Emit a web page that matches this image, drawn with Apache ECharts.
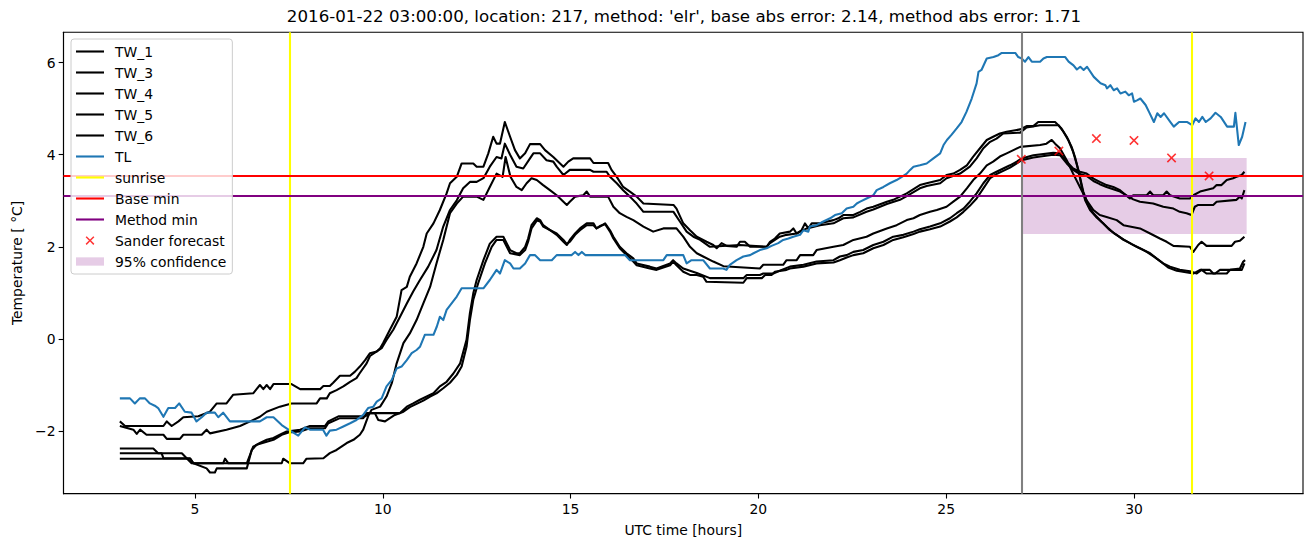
<!DOCTYPE html>
<html>
<head>
<meta charset="utf-8">
<script src="https://cdn.jsdelivr.net/npm/echarts@6/dist/echarts.min.js"></script>
<style>html,body{margin:0;padding:0;background:#fff}#c{width:1313px;height:547px}</style>
</head>
<body>
<div id="c"></div>
<script>
// ---- data: [UTC hour, temperature °C] ----
const tw1 = [[3.00,-1.79],[3.14,-1.89],[4.16,-1.89],[4.25,-1.79],[4.38,-1.89],[4.56,-1.79],[4.69,-1.70],[5.09,-1.68],[5.40,-1.58],[5.58,-1.40],[5.84,-1.40],[6.02,-1.21],[6.55,-1.18],[6.64,-1.09],[6.73,-1.00],[6.82,-1.09],[6.91,-1.00],[7.00,-1.09],[7.09,-0.98],[7.57,-0.98],[7.80,-1.09],[8.33,-1.09],[8.42,-1.02],[8.59,-1.02],[8.68,-0.95],[8.86,-0.80],[9.13,-0.80],[9.26,-0.71],[9.39,-0.60],[9.53,-0.46],[9.66,-0.31],[9.84,-0.27],[9.93,-0.20],[10.01,-0.09],[10.19,0.20],[10.37,0.48],[10.50,1.06],[10.64,1.13],[10.72,1.35],[10.90,1.64],[11.08,2.00],[11.17,2.29],[11.35,2.51],[11.52,2.80],[11.70,3.16],[11.79,3.38],[11.97,3.52],[12.10,3.81],[12.41,3.81],[12.50,3.74],[12.68,3.74],[12.81,4.03],[12.94,4.39],[13.03,4.24],[13.12,4.24],[13.25,4.71],[13.39,4.39],[13.52,4.10],[13.65,3.92],[13.79,4.03],[13.92,4.23],[14.19,4.23],[14.32,4.10],[14.54,3.95],[14.72,3.81],[14.81,3.74],[14.94,3.85],[15.07,3.92],[15.52,3.92],[15.61,3.82],[16.00,3.82],[16.09,3.67],[16.23,3.52],[16.40,3.30],[16.58,3.20],[16.76,3.09],[16.94,2.94],[17.74,2.91],[17.82,2.83],[18.00,2.51],[18.18,2.36],[18.36,2.22],[18.62,2.11],[18.80,2.04],[18.89,1.97],[19.02,2.08],[19.16,2.02],[19.42,2.00],[19.51,2.11],[19.64,2.11],[19.78,2.00],[20.22,2.00],[20.31,2.11],[20.44,2.18],[20.57,2.29],[20.84,2.33],[20.93,2.40],[21.02,2.29],[21.15,2.36],[21.24,2.51],[21.33,2.40],[21.42,2.51],[21.64,2.51],[22.00,2.58],[22.13,2.62],[22.26,2.69],[22.53,2.69],[22.71,2.76],[22.88,2.83],[23.06,2.87],[23.42,2.98],[23.59,3.02],[23.77,3.09],[23.95,3.16],[24.30,3.34],[24.48,3.38],[24.84,3.45],[25.01,3.56],[25.19,3.59],[25.37,3.67],[25.55,3.77],[25.72,3.96],[25.90,4.14],[26.08,4.32],[26.25,4.39],[26.43,4.46],[26.61,4.50],[26.97,4.55],[27.14,4.62],[27.32,4.62],[27.45,4.71],[27.90,4.71],[27.94,4.68],[28.07,4.57],[28.21,4.39],[28.34,4.17],[28.43,3.95],[28.52,3.67],[28.61,3.30],[28.70,3.01],[28.83,2.80],[28.99,2.65],[29.18,2.51],[29.36,2.36],[29.54,2.26],[29.72,2.15],[29.89,2.08],[30.07,2.00],[30.25,1.93],[30.43,1.86],[30.60,1.75],[30.78,1.64],[30.96,1.57],[31.22,1.50],[31.49,1.47],[31.67,1.42],[31.80,1.50],[31.93,1.42],[32.16,1.42],[32.29,1.50],[32.56,1.50],[32.82,1.53],[32.91,1.68],[32.96,1.71]];
const tw3 = [[3.00,-1.89],[3.36,-1.97],[3.45,-2.06],[3.54,-1.97],[3.71,-2.08],[4.16,-2.08],[4.25,-2.17],[4.60,-2.17],[4.69,-2.08],[5.18,-2.08],[5.31,-1.97],[5.40,-2.05],[5.84,-1.97],[6.20,-1.89],[6.47,-1.79],[6.73,-1.69],[6.91,-1.58],[7.26,-1.47],[7.57,-1.40],[8.24,-1.40],[8.33,-1.29],[8.51,-1.29],[8.59,-1.18],[8.77,-1.11],[8.95,-1.03],[9.13,-0.93],[9.30,-0.85],[9.39,-0.74],[9.57,-0.53],[9.66,-0.37],[9.84,-0.27],[9.97,-0.20],[10.10,-0.02],[10.28,0.20],[10.46,0.48],[10.64,0.77],[10.81,1.03],[10.99,1.28],[11.21,1.57],[11.43,1.93],[11.61,2.44],[11.79,2.80],[11.97,3.01],[12.14,3.27],[12.32,3.41],[12.50,3.41],[12.68,3.49],[12.85,3.74],[13.03,3.95],[13.16,3.92],[13.25,4.24],[13.39,4.00],[13.56,3.74],[13.74,3.70],[13.92,3.92],[14.01,4.03],[14.19,4.03],[14.36,3.88],[14.54,3.85],[14.63,3.74],[14.81,3.56],[14.98,3.67],[15.52,3.67],[15.61,3.63],[15.96,3.63],[16.05,3.52],[16.23,3.38],[16.40,3.23],[16.58,3.09],[16.76,2.94],[16.94,2.76],[17.74,2.76],[17.91,2.55],[18.09,2.33],[18.27,2.22],[18.45,2.15],[18.71,2.00],[19.51,2.04],[20.22,2.00],[20.31,2.08],[20.57,2.22],[20.75,2.26],[21.02,2.29],[21.29,2.40],[21.64,2.47],[22.00,2.51],[22.26,2.62],[22.53,2.64],[22.88,2.76],[23.06,2.81],[23.42,2.93],[23.77,3.02],[23.95,3.10],[24.30,3.27],[24.48,3.32],[24.84,3.38],[25.01,3.49],[25.37,3.59],[25.63,3.74],[25.81,3.92],[25.99,4.14],[26.17,4.28],[26.34,4.35],[26.52,4.46],[26.97,4.48],[27.14,4.59],[27.50,4.64],[27.99,4.64],[28.12,4.50],[28.25,4.32],[28.38,4.06],[28.47,3.81],[28.56,3.52],[28.65,3.20],[28.78,2.91],[28.92,2.73],[29.14,2.54],[29.32,2.40],[29.49,2.28],[29.72,2.16],[29.94,2.06],[30.16,1.97],[30.34,1.89],[30.56,1.77],[30.74,1.66],[30.91,1.55],[31.14,1.48],[31.58,1.42],[31.76,1.50],[32.02,1.50],[32.11,1.42],[32.47,1.42],[32.56,1.50],[32.87,1.50],[32.94,1.64]];
const tw4 = [[3.00,-2.60],[4.87,-2.60],[4.96,-2.70],[5.75,-2.70],[5.80,-2.60],[5.89,-2.70],[7.31,-2.70],[7.35,-2.60],[7.53,-2.70],[7.88,-2.70],[7.97,-2.60],[8.42,-2.59],[8.59,-2.48],[8.77,-2.41],[9.04,-2.26],[9.22,-2.19],[9.39,-2.08],[9.48,-1.97],[9.61,-1.68],[9.70,-1.54],[9.93,-1.47],[10.10,-1.25],[10.24,-0.96],[10.37,-0.53],[10.55,-0.09],[10.72,0.12],[10.90,0.41],[11.08,0.77],[11.26,1.13],[11.43,1.64],[11.61,2.15],[11.79,2.73],[11.97,2.94],[12.14,3.09],[12.50,3.09],[12.68,3.02],[12.85,3.30],[13.03,3.59],[13.19,3.52],[13.27,3.95],[13.40,3.52],[13.56,3.30],[13.70,3.23],[13.83,3.38],[13.96,3.49],[14.10,3.45],[14.27,3.34],[14.45,3.23],[14.63,3.12],[14.81,2.98],[14.90,2.91],[14.98,2.98],[15.12,3.09],[15.34,3.12],[15.43,3.20],[15.52,3.09],[16.00,3.09],[16.14,2.87],[16.31,2.73],[16.49,2.65],[16.67,2.58],[16.94,2.44],[17.20,2.33],[17.47,2.40],[17.82,2.40],[18.00,2.22],[18.18,2.00],[18.36,1.86],[18.53,1.79],[18.80,1.68],[19.07,1.58],[20.04,1.53],[20.13,1.61],[20.66,1.61],[20.75,1.71],[21.02,1.71],[21.11,1.82],[21.46,1.82],[21.55,1.93],[22.00,2.00],[22.26,2.04],[22.53,2.15],[22.88,2.22],[23.06,2.29],[23.42,2.40],[23.68,2.47],[23.95,2.58],[24.13,2.62],[24.30,2.69],[24.57,2.76],[24.75,2.80],[25.01,2.87],[25.19,2.98],[25.37,3.09],[25.55,3.27],[25.72,3.45],[25.90,3.59],[26.08,3.77],[26.25,3.85],[26.43,3.96],[26.61,4.03],[26.79,4.10],[26.97,4.17],[27.50,4.21],[27.67,4.24],[27.81,4.32],[27.90,4.24],[28.03,4.14],[28.21,3.88],[28.38,3.59],[28.56,3.30],[28.74,3.01],[28.92,2.80],[29.09,2.69],[29.27,2.65],[29.54,2.58],[29.72,2.47],[30.16,2.40],[30.43,2.29],[30.69,2.18],[30.87,2.11],[31.05,2.02],[31.49,2.00],[31.58,1.89],[31.71,2.04],[31.80,2.11],[31.93,2.02],[32.60,2.02],[32.69,2.11],[32.82,2.13],[32.94,2.22]];
const tw5 = [[3.00,-2.38],[3.89,-2.38],[4.02,-2.48],[4.65,-2.48],[4.78,-2.59],[4.91,-2.70],[6.38,-2.70],[6.55,-2.34],[6.73,-2.26],[6.91,-2.19],[7.09,-2.15],[7.26,-2.08],[7.44,-2.01],[7.80,-1.97],[8.06,-1.89],[8.46,-1.89],[8.55,-1.79],[8.82,-1.68],[9.53,-1.68],[9.66,-1.61],[10.46,-1.61],[10.64,-1.47],[10.81,-1.40],[10.99,-1.32],[11.17,-1.25],[11.35,-1.18],[11.52,-1.03],[11.70,-0.93],[11.88,-0.75],[12.06,-0.53],[12.23,-0.02],[12.32,0.56],[12.41,0.99],[12.50,1.28],[12.68,1.71],[12.85,2.07],[13.03,2.22],[13.21,2.22],[13.39,1.93],[13.56,1.86],[13.65,1.86],[13.79,2.00],[13.87,2.18],[13.96,2.47],[14.10,2.62],[14.19,2.58],[14.27,2.47],[14.63,2.26],[14.81,2.11],[14.90,2.04],[14.98,2.15],[15.12,2.29],[15.25,2.40],[15.43,2.51],[15.61,2.51],[15.69,2.40],[15.78,2.44],[15.92,2.51],[16.05,2.36],[16.14,2.22],[16.31,2.00],[16.49,1.86],[16.67,1.75],[16.76,1.64],[17.11,1.57],[17.29,1.53],[17.65,1.64],[17.73,1.71],[17.82,1.64],[18.00,1.53],[18.36,1.43],[18.71,1.32],[19.60,1.32],[19.69,1.39],[20.04,1.39],[20.13,1.42],[20.40,1.42],[20.62,1.50],[20.84,1.57],[21.20,1.61],[21.55,1.68],[22.00,1.71],[22.17,1.79],[22.35,1.82],[22.53,1.89],[22.79,1.93],[23.06,2.04],[23.33,2.11],[23.59,2.22],[23.86,2.26],[24.13,2.33],[24.30,2.38],[24.57,2.44],[24.84,2.51],[25.10,2.62],[25.28,2.73],[25.46,2.83],[25.63,2.98],[25.81,3.16],[25.99,3.38],[26.17,3.56],[26.34,3.63],[26.52,3.70],[26.70,3.77],[26.88,3.85],[27.01,3.92],[27.32,3.99],[27.85,4.04],[28.03,4.03],[28.21,3.85],[28.38,3.70],[28.56,3.63],[28.74,3.59],[28.92,3.48],[29.09,3.41],[29.27,3.34],[29.45,3.30],[29.63,3.23],[29.89,3.05],[29.98,3.12],[30.34,3.12],[30.43,3.20],[30.51,3.12],[30.78,3.12],[30.87,3.20],[30.96,3.12],[31.22,3.05],[31.49,3.05],[31.58,3.12],[31.76,3.20],[32.11,3.27],[32.20,3.34],[32.33,3.34],[32.47,3.45],[32.64,3.49],[32.73,3.52],[32.87,3.56],[32.94,3.63]];
const tw6 = [[3.00,-2.48],[4.11,-2.48],[4.16,-2.59],[4.87,-2.59],[4.96,-2.70],[5.31,-2.81],[5.40,-2.90],[5.53,-2.90],[5.58,-2.81],[6.38,-2.81],[6.51,-2.41],[6.64,-2.30],[6.91,-2.23],[7.09,-2.19],[7.31,-2.08],[7.49,-2.03],[7.80,-2.01],[8.06,-1.94],[8.46,-1.94],[8.55,-1.83],[8.86,-1.72],[9.48,-1.72],[9.57,-1.61],[9.79,-1.61],[9.88,-1.76],[10.06,-1.79],[10.19,-1.72],[10.32,-1.65],[10.55,-1.58],[10.72,-1.48],[10.90,-1.41],[11.08,-1.34],[11.26,-1.25],[11.43,-1.18],[11.61,-1.07],[11.79,-0.95],[11.97,-0.78],[12.10,-0.60],[12.23,-0.17],[12.32,0.41],[12.41,0.85],[12.54,1.21],[12.72,1.64],[12.90,2.00],[13.03,2.15],[13.21,2.15],[13.39,1.86],[13.65,1.82],[13.79,1.93],[13.87,2.11],[13.96,2.40],[14.10,2.57],[14.19,2.55],[14.27,2.44],[14.63,2.29],[14.81,2.15],[14.90,2.06],[14.98,2.11],[15.12,2.26],[15.25,2.36],[15.43,2.47],[15.61,2.47],[15.69,2.40],[15.78,2.45],[15.92,2.49],[16.05,2.33],[16.14,2.18],[16.31,1.97],[16.49,1.82],[16.67,1.68],[16.76,1.60],[17.11,1.53],[17.29,1.50],[17.65,1.60],[17.73,1.68],[17.82,1.60],[18.00,1.46],[18.18,1.39],[18.36,1.39],[18.53,1.35],[18.62,1.24],[19.60,1.22],[19.69,1.32],[20.09,1.32],[20.18,1.39],[20.35,1.39],[20.44,1.46],[20.75,1.50],[20.84,1.53],[21.20,1.57],[21.55,1.64],[22.00,1.66],[22.17,1.71],[22.35,1.77],[22.53,1.82],[22.79,1.86],[23.06,1.97],[23.33,2.04],[23.59,2.15],[23.86,2.21],[24.13,2.28],[24.30,2.33],[24.57,2.38],[24.84,2.44],[25.10,2.55],[25.28,2.64],[25.46,2.76],[25.63,2.89],[25.81,3.05],[25.99,3.27],[26.17,3.49],[26.34,3.58],[26.52,3.65],[26.70,3.72],[26.88,3.81],[27.01,3.88],[27.32,3.94],[27.85,4.00],[28.03,3.99],[28.21,3.81],[28.38,3.67],[28.56,3.58],[28.74,3.54],[28.92,3.43],[29.09,3.36],[29.27,3.30],[29.63,3.20],[29.98,3.03],[30.16,2.98],[30.51,2.94],[30.78,2.87],[31.05,2.83],[31.22,2.76],[31.40,2.73],[31.53,2.69],[31.62,2.87],[31.71,2.91],[32.11,2.91],[32.20,2.98],[32.73,3.02],[32.82,3.09],[32.87,3.05],[32.94,3.23]];
const tl = [[3.00,-1.29],[3.27,-1.29],[3.40,-1.40],[3.53,-1.29],[3.67,-1.29],[3.80,-1.40],[3.93,-1.45],[4.02,-1.50],[4.16,-1.69],[4.29,-1.50],[4.47,-1.50],[4.58,-1.40],[4.73,-1.58],[4.91,-1.60],[5.04,-1.79],[5.18,-1.70],[5.31,-1.60],[5.53,-1.60],[5.62,-1.70],[5.75,-1.60],[5.93,-1.79],[6.73,-1.79],[6.91,-1.70],[7.09,-1.70],[7.31,-1.87],[7.49,-1.97],[7.75,-2.10],[7.93,-1.92],[8.06,-1.97],[8.41,-1.97],[8.50,-2.10],[8.59,-1.99],[8.77,-1.97],[8.95,-1.90],[9.13,-1.83],[9.30,-1.76],[9.48,-1.65],[9.61,-1.50],[9.75,-1.47],[9.84,-1.36],[9.97,-1.29],[10.10,-1.03],[10.24,-0.89],[10.37,-0.64],[10.50,-0.60],[10.64,-0.46],[10.77,-0.31],[10.90,-0.24],[10.99,-0.17],[11.12,0.09],[11.35,0.09],[11.44,0.27],[11.52,0.48],[11.61,0.41],[11.70,0.63],[11.97,0.92],[12.10,1.10],[12.68,1.10],[12.85,1.28],[13.03,1.50],[13.12,1.42],[13.25,1.71],[13.39,1.64],[13.48,1.53],[13.65,1.53],[13.79,1.64],[13.92,1.82],[14.05,1.82],[14.19,1.71],[14.50,1.71],[14.63,1.82],[15.03,1.82],[15.12,1.89],[15.21,1.82],[15.30,1.89],[15.39,1.82],[16.45,1.82],[16.58,1.71],[17.47,1.71],[17.56,1.82],[18.00,1.82],[18.09,1.64],[18.22,1.71],[18.53,1.71],[18.71,1.53],[19.06,1.53],[19.15,1.50],[19.24,1.61],[19.42,1.71],[19.60,1.79],[19.78,1.82],[19.87,1.86],[20.04,1.93],[20.22,1.97],[20.35,2.02],[20.53,2.08],[20.66,2.15],[20.80,2.18],[20.93,2.22],[21.11,2.26],[21.20,2.36],[21.33,2.33],[21.37,2.44],[21.55,2.47],[21.73,2.55],[21.91,2.62],[22.04,2.69],[22.22,2.73],[22.35,2.83],[22.53,2.87],[22.62,2.94],[22.71,2.98],[22.88,3.05],[23.06,3.12],[23.15,3.23],[23.33,3.30],[23.50,3.38],[23.68,3.45],[23.82,3.52],[23.95,3.59],[24.04,3.67],[24.13,3.74],[24.30,3.77],[24.48,3.81],[24.66,3.92],[24.84,4.03],[24.93,4.21],[25.02,4.32],[25.14,4.43],[25.28,4.57],[25.41,4.71],[25.54,4.93],[25.68,5.22],[25.81,5.55],[25.86,5.80],[25.94,5.84],[26.08,6.09],[26.26,6.12],[26.39,6.16],[26.48,6.21],[26.84,6.21],[26.92,6.12],[27.01,6.09],[27.10,6.02],[27.19,6.12],[27.28,6.02],[27.50,6.02],[27.59,6.09],[27.68,6.12],[28.17,6.12],[28.26,6.02],[28.39,5.94],[28.48,5.85],[28.57,5.91],[28.66,5.84],[28.75,5.91],[28.93,5.69],[29.11,5.55],[29.24,5.51],[29.28,5.44],[29.37,5.51],[29.46,5.40],[29.55,5.44],[29.64,5.33],[29.77,5.37],[29.86,5.29],[29.95,5.33],[30.00,5.15],[30.08,5.18],[30.17,5.22],[30.31,5.08],[30.40,4.93],[30.53,4.71],[30.62,4.90],[30.71,4.82],[30.80,4.90],[30.97,4.71],[31.06,4.61],[31.20,4.71],[31.42,4.71],[31.55,4.64],[31.64,4.79],[31.73,4.71],[31.82,4.82],[31.91,4.71],[32.04,4.79],[32.17,4.91],[32.31,4.82],[32.48,4.61],[32.66,4.61],[32.70,4.91],[32.79,4.21],[32.88,4.39],[32.97,4.71]];
const sunriseHours = [7.53, 31.55];
const baseMin = 3.536;
const methodMin = 3.10;
const forecastStart = 27;
const forecastHours = [27, 28, 29, 30, 31, 32];
const sanderForecast = [3.90, 4.08, 4.35, 4.31, 3.93, 3.54];
const confStart = 27, confEnd = 33, confLow = 2.28, confHigh = 3.93;
const xTicks = [5, 10, 15, 20, 25, 30];
const yTicks = [-2, 0, 2, 4, 6];
const titleText = "2016-01-22 03:00:00, location: 217, method: 'elr', base abs error: 2.14, method abs error: 1.71";

// ---- chart ----
const FONT = 'DejaVu Sans';
const LW = 2.08;
const chart = echarts.init(document.getElementById('c'), null, {renderer: 'svg'});
const xPath = 'path://M0,1.2L1.2,0L5,3.8L8.8,0L10,1.2L6.2,5L10,8.8L8.8,10L5,6.2L1.2,10L0,8.8L3.8,5Z';
const xIcon = 'path://M-3,-3L-3,-3M13,13L13,13M0,1.2L1.2,0L5,3.8L8.8,0L10,1.2L6.2,5L10,8.8L8.8,10L5,6.2L1.2,10L0,8.8L3.8,5Z';
const lineIcon = 'path://M0,0h28v2.1h-28z';
const rectIcon = 'path://M0,0h28v8.3h-28z';

function lineSeries(name, pts, color, z) {
  return {
    name, type: 'line', data: pts,
    symbol: 'none', showSymbol: false, color,
    lineStyle: {color, width: LW, join: 'round'}, itemStyle: {color},
    z, silent: true, animation: false, emphasis: {disabled: true}
  };
}
function refLineSeries(name, color, values, axis) {
  return {
    name, type: 'line', data: [], color, symbol: 'none',
    lineStyle: {color, width: LW}, itemStyle: {color},
    markLine: {
      silent: true, symbol: ['none', 'none'], label: {show: false}, animation: false,
      lineStyle: {color, width: LW, type: 'solid'},
      emphasis: {disabled: true},
      data: values.map(v => (axis === 'x' ? {xAxis: v} : {yAxis: v}))
    }
  };
}

const legendNames = ['TW_1','TW_3','TW_4','TW_5','TW_6','TL','sunrise','Base min','Method min','Sander forecast','95% confidence'];
const legendData = legendNames.map(n => {
  if (n === 'Sander forecast') return {name: n, icon: xIcon};
  if (n === '95% confidence') return {name: n, icon: rectIcon};
  return {name: n, icon: lineIcon};
});

const option = {
  animation: false,
  backgroundColor: '#ffffff',
  title: {
    text: titleText, left: 684, top: 8, textAlign: 'center', padding: 0,
    textStyle: {fontFamily: FONT, fontSize: 16.67, fontWeight: 'normal', color: '#000'}
  },
  grid: {left: 63.5, right: 10, top: 32.2, bottom: 53.3, show: true, borderColor: '#000', borderWidth: 1.1, backgroundColor: 'transparent'},
  legend: {
    orient: 'vertical', left: 71, top: 39, z: 20,
    padding: [5.5, 6, 5.5, 5],
    itemWidth: 28, itemHeight: 14, itemGap: 7,
    backgroundColor: 'rgba(255,255,255,0.8)', borderColor: '#cccccc', borderWidth: 1, borderRadius: 3,
    textStyle: {fontFamily: FONT, fontSize: 13.9, color: '#000', padding: [0, 0, 0, 6]},
    itemStyle: {borderWidth: 0},
    selectedMode: false,
    data: legendData
  },
  xAxis: {
    type: 'value', min: 1.5, max: 34.5,
    name: 'UTC time [hours]', nameLocation: 'middle', nameGap: 29,
    nameTextStyle: {fontFamily: FONT, fontSize: 13.9, color: '#000'},
    axisLine: {show: true, onZero: false, lineStyle: {color: '#000', width: 1.1}},
    axisTick: {show: true, inside: false, length: 4.86, lineStyle: {color: '#000', width: 1.1}, customValues: xTicks},
    axisLabel: {show: true, margin: 8, fontFamily: FONT, fontSize: 13.9, color: '#000', customValues: xTicks},
    splitLine: {show: false}
  },
  yAxis: {
    type: 'value', min: -3.36, max: 6.66,
    name: 'Temperature [ °C]', nameLocation: 'middle', nameGap: 40, nameRotate: 90,
    nameTextStyle: {fontFamily: FONT, fontSize: 13.9, color: '#000'},
    axisLine: {show: true, onZero: false, lineStyle: {color: '#000', width: 1.1}},
    axisTick: {show: true, inside: false, length: 4.86, lineStyle: {color: '#000', width: 1.1}, customValues: yTicks},
    axisLabel: {show: true, margin: 8, fontFamily: FONT, fontSize: 13.9, color: '#000', customValues: yTicks,
      formatter: v => (v < 0 ? '\u2212' + Math.abs(v) : String(v))},
    splitLine: {show: false}
  },
  series: [
    {
      name: '95% confidence', type: 'line', data: [], color: 'rgba(128,0,128,0.2)',
      itemStyle: {color: 'rgba(128,0,128,0.2)'}, lineStyle: {color: 'rgba(128,0,128,0.2)'},
      markArea: {silent: true, animation: false, itemStyle: {color: 'rgba(128,0,128,0.2)'},
        data: [[{xAxis: confStart, yAxis: confLow}, {xAxis: confEnd, yAxis: confHigh}]]}
    },
    lineSeries('TW_1', tw1, '#000000', 2),
    lineSeries('TW_3', tw3, '#000000', 2),
    lineSeries('TW_4', tw4, '#000000', 2),
    lineSeries('TW_5', tw5, '#000000', 2),
    lineSeries('TW_6', tw6, '#000000', 2),
    lineSeries('TL', tl, '#1f77b4', 2),
    refLineSeries('sunrise', '#ffff00', sunriseHours, 'x'),
    refLineSeries('Base min', '#ff0000', [baseMin], 'y'),
    refLineSeries('Method min', '#800080', [methodMin], 'y'),
    refLineSeries('forecast start', '#808080', [forecastStart], 'x'),
    {
      name: 'Sander forecast', type: 'scatter', z: 6, silent: true,
      data: forecastHours.map((h, i) => [h, sanderForecast[i]]),
      symbol: xPath, symbolSize: 9.5, itemStyle: {color: '#ff0000'}, color: '#ff0000'
    }
  ]
};
chart.setOption(option);
</script>
</body>
</html>
